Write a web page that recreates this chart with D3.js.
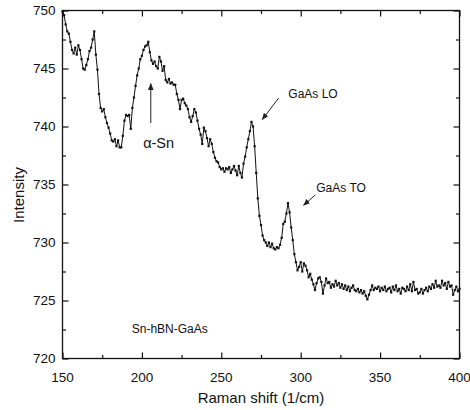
<!DOCTYPE html>
<html>
<head>
<meta charset="utf-8">
<script src="https://cdn.jsdelivr.net/npm/d3@7"></script>
<style>
  body { margin: 0; background: #fff; }
  text { font-family: "Liberation Sans", Arial, sans-serif; fill: #111; }
</style>
</head>
<body>
<div id="chart"></div>
<script>
// Raman shift grid (1/cm), one reading per wavenumber from 150 to 400
const shift = d3.range(150, 401);

const intensity = [
  749.9, 749.6, 748.8, 748.2, 748.0, 747.3, 746.6, 746.3, 746.8, 746.2,
  747.0, 746.6, 745.8, 745.0, 744.9, 745.3, 745.8, 746.5, 746.8, 747.5,
  748.2, 746.2, 744.9, 742.8, 741.6, 741.3, 741.5, 740.8, 740.3, 739.9,
  739.4, 738.8, 738.7, 738.9, 738.3, 738.8, 738.2, 738.2, 739.2, 740.5,
  741.0, 740.9, 741.0, 739.8, 741.6, 742.5, 743.5, 744.4, 745.0, 745.8,
  746.1, 746.6, 746.9, 747.0, 747.3, 746.4, 745.7, 745.4, 745.6, 745.2,
  745.0, 746.0, 745.6, 744.8, 745.2, 744.0, 743.8, 744.1, 743.7, 743.8,
  743.6, 743.6, 742.8, 742.3, 741.5, 742.3, 742.4, 742.0, 741.8, 741.5,
  740.8, 740.4, 740.9, 741.5, 741.2, 740.5, 739.8, 739.3, 738.5, 739.9,
  739.6, 739.0, 738.3, 738.9, 738.5, 737.8, 737.3, 737.0, 736.9, 736.5,
  736.3, 736.4, 736.1, 736.4, 736.3, 736.5, 736.0, 736.3, 736.6, 736.2,
  735.8, 736.6, 736.0, 735.6, 736.8, 737.4, 738.2, 738.9, 739.6, 740.4,
  740.0, 738.3, 736.0, 733.8, 732.3, 731.5, 730.6, 730.2, 730.0, 729.7,
  730.0, 729.6, 729.9, 729.5, 729.4, 729.6, 729.5, 729.8, 730.4, 731.6,
  731.8, 732.5, 733.4, 732.6, 731.3, 730.2, 729.0, 728.3, 727.6, 727.9,
  728.3, 727.5, 728.2, 728.0, 727.6, 727.0, 727.3, 726.8, 726.4, 725.9,
  726.5, 726.9, 727.0, 726.6, 725.6, 726.3, 726.9, 726.5, 726.6, 726.1,
  726.4, 726.2, 726.7, 726.3, 726.5, 726.1, 726.4, 726.0, 726.3, 725.9,
  726.2, 725.8, 726.1, 726.3, 725.9, 725.8, 726.0, 725.7, 725.9, 725.6,
  725.8, 725.4, 725.1, 725.5, 725.9, 726.3, 725.9, 726.1, 726.0, 726.2,
  725.8, 726.1, 725.9, 726.2, 725.8, 726.0, 726.1, 725.7, 726.2, 725.9,
  726.3, 725.8, 726.0, 725.6, 726.1, 726.0, 725.8, 726.2, 725.9, 726.4,
  725.8, 726.6, 725.9, 726.0, 725.6, 725.7, 726.0, 725.6, 725.9, 726.1,
  725.8, 726.2, 726.0, 726.4, 726.1, 726.7, 726.2, 726.3, 726.1, 726.7,
  726.3, 726.5, 726.0, 726.6, 726.2, 726.3, 725.5, 725.9, 726.2, 725.8,
  726.0
];

const xTicks = [150, 200, 250, 300, 350, 400];
const xMinor = [175, 225, 275, 325, 375];
const yTicks = [720, 725, 730, 735, 740, 745, 750];
const yMinor = [722.5, 727.5, 732.5, 737.5, 742.5, 747.5];

// annotation labels with arrow [from, to] in data units
const notes = [
  { label: "\u03b1-Sn", at: [200.8, 738.15], arrow: [[205.6, 740.3], [205.6, 743.7]], size: 14.5 },
  { label: "GaAs LO", at: [292.2, 742.45], arrow: [[286.1, 742.45], [275.8, 740.6]], size: 12 },
  { label: "GaAs TO", at: [309.8, 734.35], arrow: [[309.2, 734.1], [301.8, 733.2]], size: 12 },
  { label: "Sn-hBN-GaAs", at: [193.6, 722.2], arrow: null, size: 12 }
];

const W = 470, H = 410;
const margin = { top: 10.5, right: 10.5, bottom: 51.5, left: 62.5 };
const width = W - margin.left - margin.right;
const height = H - margin.top - margin.bottom;

const data = shift.map((s, i) => ({ s: s, v: intensity[i] }));

const x = d3.scaleLinear().domain([150, 400]).range([0, width]);
const y = d3.scaleLinear().domain([720, 750]).range([height, 0]);

const svg = d3.select("#chart").append("svg")
    .attr("width", W)
    .attr("height", H);

svg.append("defs").append("marker")
    .attr("id", "head")
    .attr("viewBox", "0 0 10 10")
    .attr("refX", 9).attr("refY", 5)
    .attr("markerWidth", 7).attr("markerHeight", 7)
    .attr("markerUnits", "userSpaceOnUse")
    .attr("orient", "auto")
    .append("path")
    .attr("d", "M0,1 L10,5 L0,9 Z")
    .attr("fill", "#222");

const g = svg.append("g")
    .attr("transform", `translate(${margin.left},${margin.top})`);

// ticks inward on all four sides
function tickAxes(major, minor, axisFn, scale, tr) {
    g.append("g").attr("transform", tr)
        .call(axisFn(scale).tickValues(major).tickSize(6).tickFormat(""))
        .call(a => a.select(".domain").remove());
    g.append("g").attr("transform", tr)
        .call(axisFn(scale).tickValues(minor).tickSize(3.5).tickFormat(""))
        .call(a => a.select(".domain").remove());
}
tickAxes(xTicks, xMinor, d3.axisTop, x, `translate(0,${height})`);
tickAxes(xTicks, xMinor, d3.axisBottom, x, "translate(0,0)");
tickAxes(yTicks, yMinor, d3.axisRight, y, "translate(0,0)");
tickAxes(yTicks, yMinor, d3.axisLeft, y, `translate(${width},0)`);
g.selectAll(".tick line").attr("stroke", "#111").attr("stroke-width", 1.2);

g.append("rect")
    .attr("width", width).attr("height", height)
    .attr("fill", "none").attr("stroke", "#111").attr("stroke-width", 1.3);

// tick labels
g.selectAll(".xlab")
    .data(xTicks)
    .enter().append("text")
    .attr("class", "xlab")
    .attr("x", d => x(d))
    .attr("y", height + 23)
    .attr("text-anchor", "middle")
    .attr("font-size", "13.5px")
    .text(d => d);

g.selectAll(".ylab")
    .data(yTicks)
    .enter().append("text")
    .attr("class", "ylab")
    .attr("x", -7)
    .attr("y", d => y(d) + 4.5)
    .attr("text-anchor", "end")
    .attr("font-size", "13.5px")
    .text(d => d);

svg.append("text")
    .attr("x", 261)
    .attr("y", 403)
    .attr("text-anchor", "middle")
    .attr("font-size", "15px")
    .text("Raman shift (1/cm)");

svg.append("text")
    .attr("transform", "translate(24,195) rotate(-90)")
    .attr("text-anchor", "middle")
    .attr("font-size", "15px")
    .text("Intensity");

// spectrum
const line = d3.line().x(d => x(d.s)).y(d => y(d.v));
g.append("path")
    .datum(data)
    .attr("fill", "none")
    .attr("stroke", "#111")
    .attr("stroke-width", 1)
    .attr("d", line);

g.selectAll(".pt")
    .data(data)
    .enter().append("rect")
    .attr("class", "pt")
    .attr("x", d => x(d.s) - 1.1)
    .attr("y", d => y(d.v) - 1.1)
    .attr("width", 2.2)
    .attr("height", 2.2)
    .attr("fill", "#111");

// annotations
notes.forEach(n => {
    g.append("text")
        .attr("x", x(n.at[0]))
        .attr("y", y(n.at[1]))
        .attr("font-size", n.size + "px")
        .text(n.label);
    if (n.arrow) {
        g.append("line")
            .attr("x1", x(n.arrow[0][0])).attr("y1", y(n.arrow[0][1]))
            .attr("x2", x(n.arrow[1][0])).attr("y2", y(n.arrow[1][1]))
            .attr("stroke", "#222").attr("stroke-width", 1)
            .attr("marker-end", "url(#head)");
    }
});
</script>
</body>
</html>
